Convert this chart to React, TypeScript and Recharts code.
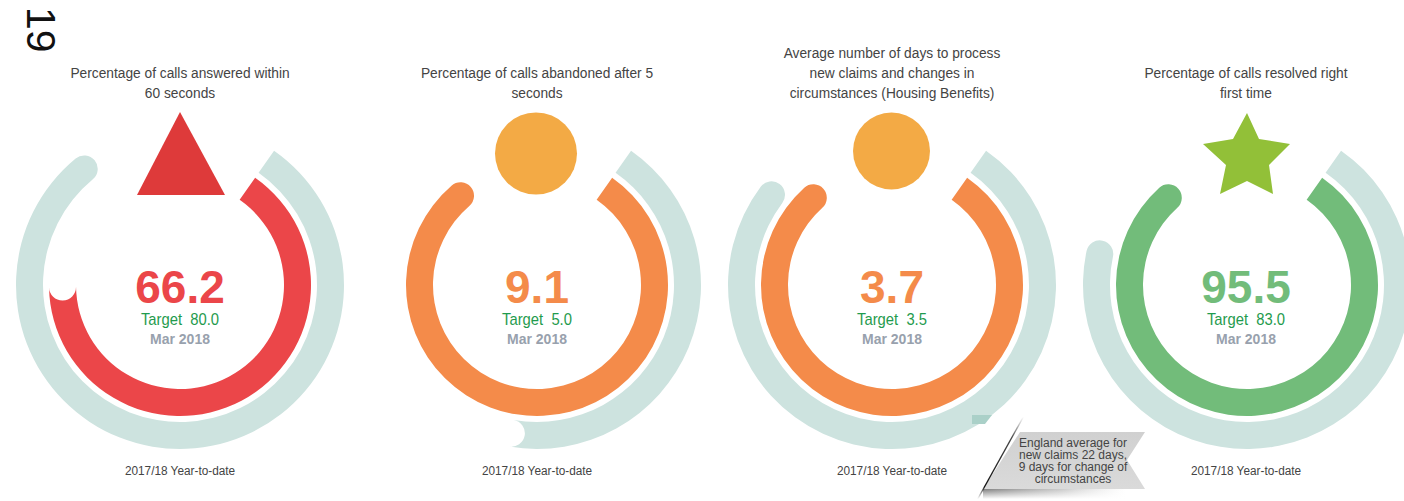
import React from "react";
import { PieChart, Pie } from "recharts";

const titles = [
  ["Percentage of calls answered within", "60 seconds"],
  ["Percentage of calls abandoned after 5", "seconds"],
  ["Average number of days to process", "new claims and changes in", "circumstances (Housing Benefits)"],
  ["Percentage of calls resolved right", "first time"],
];
const metricLabels = ["66.2", "9.1", "3.7", "95.5"];
const targetLabels = ["Target  80.0", "Target  5.0", "Target  3.5", "Target  83.0"];
const periodLabel = "Mar 2018";
const ytdLabel = "2017/18 Year-to-date";
const noteLines = ["England average for", "new claims 22 days,", "9 days for change of", "circumstances"];

// Share of a full turn covered by each arc.
const ytdArcValues = [79.3, 43, 75.5, 68.6];
const monthArcValues = [65, 79, 78.6, 78.6];

const centers = [180, 537, 892, 1247];
const textCenters = [180, 537, 892, 1246];
const CY = 285;
const monthColors = ["#EB4649", "#F48B4A", "#F48B4A", "#72BC7A"];
const ytdNotched = [false, true, false, false];
const monthNotched = [true, false, false, false];
const PALE = "#CDE3DF";
const BODY_FONT = "'Liberation Sans',Arial,sans-serif";

const toShare = (v: number) => [
  { name: "value", value: v },
  { name: "rest", value: 100 - v },
];

const makeArc = (notched: boolean) => (p: any) => {
  if (p.name === "rest" || (p.payload && p.payload.name === "rest")) return <g />;
  const { cx, cy, innerRadius: ri, outerRadius: ro, startAngle: a0, endAngle: a1, fill } = p;
  const pt = (r: number, a: number) => {
    const t = (a * Math.PI) / 180;
    return `${cx + r * Math.cos(t)} ${cy - r * Math.sin(t)}`;
  };
  const large = Math.abs(a1 - a0) > 180 ? 1 : 0;
  const capR = (ro - ri) / 2;
  const d = `M ${pt(ro, a0)} A ${ro} ${ro} 0 ${large} 1 ${pt(ro, a1)} A ${capR} ${capR} 0 0 ${notched ? 0 : 1} ${pt(ri, a1)} A ${ri} ${ri} 0 ${large} 0 ${pt(ri, a0)} Z`;
  return <path d={d} fill={fill} />;
};

const Narrow = ({ x, y, size, sx, fill, children }: any) => (
  <text
    transform={`translate(${x} ${y}) scale(${sx} 1)`}
    textAnchor="middle"
    fontFamily={BODY_FONT}
    fontSize={size}
    fill={fill}
    style={{ whiteSpace: "pre" }}
  >
    {children}
  </text>
);

const ringPies = centers.flatMap((cx, i) => [
  <Pie
    key={`ytd${i}`}
    data={toShare(ytdArcValues[i])}
    dataKey="value"
    cx={cx}
    cy={CY}
    innerRadius={137}
    outerRadius={164}
    startAngle={55}
    endAngle={-305}
    fill={PALE}
    stroke="none"
    isAnimationActive={false}
    shape={makeArc(ytdNotched[i])}
  />,
  <Pie
    key={`mon${i}`}
    data={toShare(monthArcValues[i])}
    dataKey="value"
    cx={cx}
    cy={CY}
    innerRadius={104}
    outerRadius={131}
    startAngle={55}
    endAngle={-305}
    fill={monthColors[i]}
    stroke="none"
    isAnimationActive={false}
    shape={makeArc(monthNotched[i])}
  />,
]);

export default function App() {
  return (
    <div style={{ position: "absolute", left: 0, top: 0, width: 1404, height: 501, background: "#fff" }}>
      <PieChart width={1404} height={501} margin={{ top: 0, right: 0, bottom: 0, left: 0 }}>
        {ringPies}
      </PieChart>
      <svg width={1404} height={501} style={{ position: "absolute", left: 0, top: 0, pointerEvents: "none" }}>
        <defs>
          <linearGradient id="edge" x1="0" y1="0" x2="0" y2="1">
            <stop offset="0" stopColor="#555" stopOpacity={0} />
            <stop offset="0.25" stopColor="#333" stopOpacity={0.9} />
            <stop offset="0.85" stopColor="#111" stopOpacity={1} />
            <stop offset="1" stopColor="#555" stopOpacity={0} />
          </linearGradient>
          <linearGradient id="shade" x1="0" y1="0" x2="1" y2="0">
            <stop offset="0" stopColor="#555" stopOpacity={0.75} />
            <stop offset="0.55" stopColor="#888" stopOpacity={0.45} />
            <stop offset="1" stopColor="#bbb" stopOpacity={0} />
          </linearGradient>
          <linearGradient id="fade" x1="0" y1="0" x2="0" y2="1">
            <stop offset="0" stopColor="#fff" stopOpacity={0} />
            <stop offset="1" stopColor="#fff" stopOpacity={1} />
          </linearGradient>
          <linearGradient id="body" x1="0" y1="0" x2="0" y2="1">
            <stop offset="0" stopColor="#D0D0D0" />
            <stop offset="1" stopColor="#DADADA" />
          </linearGradient>
        </defs>
        <text transform="translate(27 7) rotate(90)" fontFamily={BODY_FONT} fontSize={41} fill="#111">19</text>
        {titles.map((lines, i) =>
          lines.map((line, j) => (
            <Narrow key={`t${i}${j}`} x={textCenters[i]} y={78 + 20 * (j - lines.length + 2)} size={15.5} sx={0.887} fill="#444">{line}</Narrow>
          ))
        )}
        {centers.map((cx, i) => (
          <g key={`c${i}`}>
            <text x={textCenters[i]} y={303} textAnchor="middle" fontFamily={BODY_FONT} fontWeight="bold" fontSize={46} fill={monthColors[i]}>{metricLabels[i]}</text>
            <Narrow x={textCenters[i]} y={325} size={17} sx={0.87} fill="#1F9B4E">{targetLabels[i]}</Narrow>
            <text x={textCenters[i]} y={344} textAnchor="middle" fontFamily={BODY_FONT} fontWeight="bold" fontSize={14} fill="#98A1AD">{periodLabel}</text>
            <Narrow x={textCenters[i]} y={475} size={13.5} sx={0.875} fill="#444">{ytdLabel}</Narrow>
          </g>
        ))}
        <polygon points="180,112 137,195 225,195" fill="#DE3A3A" />
        <circle cx={536} cy={153.5} r={41} fill="#F3AA45" />
        <circle cx={891.5} cy={151} r={38.5} fill="#F3AA45" />
        <polygon points="1247,113 1259,139 1290,144 1269,165 1273,194 1247,181 1220,194 1226,165 1203,144 1233,139" fill="#92C038" />
        <polygon points="972,415 992,415 985,424 972,424" fill="#AAD0C8" />
        <polygon points="983,489 1125,489 1125,499 983,499" fill="url(#shade)" />
        <polygon points="983,489 1125,489 1125,499 983,499" fill="url(#fade)" />
        <polygon points="1020,432 1145,432 1127,460 1145,489 983,489" fill="url(#body)" />
        <polygon points="1024,417 1022.5,417 977,499 978.5,499" fill="url(#edge)" />
        {noteLines.map((l, i) => (
          <text key={l} x={1073} y={447 + 12 * i} textAnchor="middle" fontFamily={BODY_FONT} fontSize={12} fill="#444">{l}</text>
        ))}
      </svg>
    </div>
  );
}
